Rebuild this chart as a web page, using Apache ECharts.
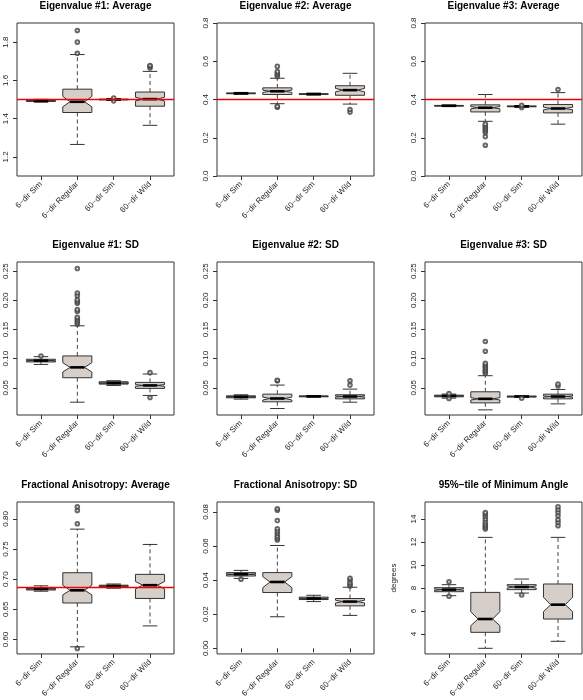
<!DOCTYPE html>
<html><head><meta charset="utf-8">
<script src="https://cdn.jsdelivr.net/npm/echarts@6/dist/echarts.min.js"></script>
<style>html,body{margin:0;padding:0;background:#fff}#c{width:583px;height:700px}</style>
</head><body><div id="c"></div>
<script>
const categories = ['6\u2212dir Sim', '6\u2212dir Regular', '60\u2212dir Sim', '60\u2212dir Wild'];
const titles = ['Eigenvalue #1: Average', 'Eigenvalue #2: Average', 'Eigenvalue #3: Average',
  'Eigenvalue #1: SD', 'Eigenvalue #2: SD', 'Eigenvalue #3: SD',
  'Fractional Anisotropy: Average', 'Fractional Anisotropy: SD', '95%\u2212tile of Minimum Angle'];

// each row: [lowWhisker, Q1, median, Q3, highWhisker, notchLow, notchHigh]
const ev1AvgBoxes = [
  [1.486, 1.490, 1.493, 1.497, 1.501, 1.4915, 1.4945],
  [1.265, 1.432, 1.488, 1.554, 1.735, 1.462, 1.516],
  [1.496, 1.498, 1.500, 1.502, 1.504, 1.4995, 1.5005],
  [1.365, 1.465, 1.502, 1.539, 1.647, 1.492, 1.512]];
const ev1AvgOutliers = [[], [1.742, 1.800, 1.861], [1.493, 1.508], [1.665, 1.674, 1.678]];

const ev2AvgBoxes = [
  [0.428, 0.430, 0.432, 0.434, 0.437, 0.4315, 0.4325],
  [0.378, 0.426, 0.443, 0.461, 0.511, 0.437, 0.449],
  [0.424, 0.426, 0.428, 0.430, 0.433, 0.4275, 0.4285],
  [0.376, 0.422, 0.449, 0.472, 0.537, 0.440, 0.458]];
const ev2AvgOutliers = [[], [0.360, 0.364, 0.520, 0.529, 0.537, 0.546, 0.573], [], [0.334, 0.348]];

const ev3AvgBoxes = [
  [0.364, 0.366, 0.367, 0.369, 0.371, 0.3665, 0.3675],
  [0.286, 0.335, 0.357, 0.372, 0.426, 0.351, 0.363],
  [0.360, 0.362, 0.364, 0.366, 0.368, 0.3635, 0.3645],
  [0.271, 0.330, 0.353, 0.374, 0.436, 0.346, 0.360]];
const ev3AvgOutliers = [[], [0.161, 0.206, 0.227, 0.236, 0.245, 0.254, 0.263, 0.271], [0.358, 0.370], [0.452]];

const ev1SdBoxes = [
  [0.0900, 0.0943, 0.0966, 0.0989, 0.1034, 0.0960, 0.0972],
  [0.0253, 0.0672, 0.0850, 0.1046, 0.1563, 0.0770, 0.0930],
  [0.0540, 0.0563, 0.0580, 0.0603, 0.0621, 0.0577, 0.0583],
  [0.0368, 0.0489, 0.0540, 0.0592, 0.0736, 0.0525, 0.0555]];
const ev1SdOutliers = [[0.1045], [0.159, 0.162, 0.165, 0.168, 0.171, 0.181, 0.184, 0.195, 0.198, 0.201, 0.208, 0.2126, 0.2546], [], [0.0333, 0.0759]];

const ev2SdBoxes = [
  [0.0305, 0.0328, 0.0345, 0.0362, 0.0380, 0.0342, 0.0348],
  [0.0144, 0.0259, 0.0316, 0.0391, 0.0546, 0.0290, 0.0340],
  [0.0340, 0.0345, 0.0353, 0.0360, 0.0365, 0.0351, 0.0355],
  [0.0253, 0.0310, 0.0350, 0.0380, 0.0477, 0.0340, 0.0360]];
const ev2SdOutliers = [[], [0.062, 0.063], [], [0.0546, 0.062]];

const ev3SdBoxes = [
  [0.0322, 0.0345, 0.0360, 0.0373, 0.0392, 0.0357, 0.0363],
  [0.0121, 0.0241, 0.0310, 0.0431, 0.0707, 0.0290, 0.0330],
  [0.0335, 0.0340, 0.0350, 0.0358, 0.0362, 0.0348, 0.0352],
  [0.0224, 0.0310, 0.0350, 0.0390, 0.0471, 0.0340, 0.0360]];
const ev3SdOutliers = [[0.0315, 0.040], [0.0747, 0.0776, 0.080, 0.0833, 0.086, 0.089, 0.092, 0.1126, 0.1293], [0.032], [0.053, 0.0563]];

const faAvgBoxes = [
  [0.680, 0.682, 0.684, 0.686, 0.689, 0.6835, 0.6845],
  [0.5878, 0.6605, 0.6815, 0.7107, 0.783, 0.674, 0.690],
  [0.685, 0.687, 0.6886, 0.690, 0.692, 0.688, 0.6892],
  [0.6225, 0.668, 0.690, 0.708, 0.7576, 0.684, 0.696]];
const faAvgOutliers = [[], [0.585, 0.792, 0.814, 0.820], [], []];

const faSdBoxes = [
  [0.0410, 0.0424, 0.0434, 0.0444, 0.0457, 0.0432, 0.0436],
  [0.0185, 0.0327, 0.0389, 0.0444, 0.0603, 0.0356, 0.0420],
  [0.0274, 0.0286, 0.0292, 0.0300, 0.0311, 0.0290, 0.0294],
  [0.0193, 0.0249, 0.0274, 0.0292, 0.0358, 0.0266, 0.0282]];
const faSdOutliers = [[0.0405], [0.0635, 0.0646, 0.0658, 0.0673, 0.0687, 0.0701, 0.0749, 0.081, 0.0818], [], [0.0366, 0.0374, 0.0385, 0.0401, 0.0411]];

const angleBoxes = [
  [7.33, 7.68, 7.86, 8.03, 8.29, 7.80, 7.92],
  [2.75, 4.14, 5.30, 7.62, 12.41, 4.72, 5.94],
  [7.56, 7.86, 8.09, 8.29, 8.78, 8.00, 8.18],
  [3.36, 5.30, 6.55, 8.35, 12.41, 5.94, 7.19]];
const angleOutliers = [[7.28, 8.55], [13.13, 13.28, 13.42, 13.57, 13.77, 14.0, 14.23, 14.43, 14.58], [7.39], [13.42, 13.71, 13.94, 14.29, 14.58, 14.81, 15.07]];

// reference (red) lines, null = none
const refLines = [1.5, 0.4, 0.4, null, null, null, 0.686, null, null];

// y axis ranges and tick labels
const yRanges = [[1.1, 1.9], [0, 0.8], [0, 0.8], [0.0033, 0.2657], [0.0033, 0.2657], [0.0033, 0.2657], [0.576, 0.828], [-0.0033, 0.0858], [2.26, 15.49]];
const avgTicks = ['1.2', '1.4', '1.6', '1.8'];
const evTicks = ['0.0', '0.2', '0.4', '0.6', '0.8'];
const sdTicks = ['0.05', '0.10', '0.15', '0.20', '0.25'];
const faAvgTicks = ['0.60', '0.65', '0.70', '0.75', '0.80'];
const faSdTicks = ['0.00', '0.02', '0.04', '0.06', '0.08'];
const angleTicks = ['4', '6', '8', '10', '12', '14'];
const yTickLabels = [avgTicks, evTicks, evTicks, sdTicks, sdTicks, sdTicks, faAvgTicks, faSdTicks, angleTicks];
const yNames = ['', '', '', '', '', '', '', '', 'degrees'];

const allBoxes = [ev1AvgBoxes, ev2AvgBoxes, ev3AvgBoxes, ev1SdBoxes, ev2SdBoxes, ev3SdBoxes, faAvgBoxes, faSdBoxes, angleBoxes];
const allOutliers = [ev1AvgOutliers, ev2AvgOutliers, ev3AvgOutliers, ev1SdOutliers, ev2SdOutliers, ev3SdOutliers, faAvgOutliers, faSdOutliers, angleOutliers];

// layout
const colLeft = [17, 217, 425];
const rowTop = [23, 262, 502];
const gridW = 157, gridH = 153;
const xMin = 0.34, xMax = 4.66;
const FONT = "'Liberation Sans', Arial, Helvetica, sans-serif";
const INK = '#333';

function renderBox(params, api) {
  const x = api.value(0);
  const lo = api.value(1), q1 = api.value(2), med = api.value(3), q3 = api.value(4), hi = api.value(5), nlo = api.value(6), nhi = api.value(7);
  const half = api.size([0.4, 0])[0];
  const cx = api.coord([x, med])[0];
  const Y = v => api.coord([x, v])[1];
  const nw = half / 2, sw = half / 2;
  const pts = [[cx - half, Y(q1)], [cx - half, Y(nlo)], [cx - nw, Y(med)], [cx - half, Y(nhi)], [cx - half, Y(q3)],
    [cx + half, Y(q3)], [cx + half, Y(nhi)], [cx + nw, Y(med)], [cx + half, Y(nlo)], [cx + half, Y(q1)]];
  const dash = { stroke: '#444', lineWidth: 1, lineDash: [4, 3] };
  const solid = { stroke: INK, lineWidth: 1 };
  return {
    type: 'group', children: [
      { type: 'line', shape: { x1: cx, y1: Y(q3), x2: cx, y2: Y(hi) }, style: dash },
      { type: 'line', shape: { x1: cx, y1: Y(q1), x2: cx, y2: Y(lo) }, style: dash },
      { type: 'line', shape: { x1: cx - sw, y1: Y(hi), x2: cx + sw, y2: Y(hi) }, style: solid },
      { type: 'line', shape: { x1: cx - sw, y1: Y(lo), x2: cx + sw, y2: Y(lo) }, style: solid },
      { type: 'polygon', shape: { points: pts }, style: { fill: '#d5cec9', stroke: INK, lineWidth: 1 } },
      { type: 'line', shape: { x1: cx - nw, y1: Y(med), x2: cx + nw, y2: Y(med) }, style: { stroke: '#000', lineWidth: 2.6 } }
    ]
  };
}

const grids = [], xAxes = [], yAxes = [], series = [], titleOpts = [];
for (let p = 0; p < 9; p++) {
  const r = Math.floor(p / 3), c = p % 3;
  grids.push({ left: colLeft[c], top: rowTop[r], width: gridW, height: gridH, show: true, borderColor: INK, borderWidth: 1, backgroundColor: 'transparent', containLabel: false });
  titleOpts.push({ text: titles[p], left: colLeft[c] + gridW / 2, top: rowTop[r] - 22, textAlign: 'center', padding: 0,
    textStyle: { fontSize: 10, fontWeight: 'bold', color: '#000', fontFamily: FONT } });
  xAxes.push({ type: 'value', gridIndex: p, min: xMin, max: xMax,
    axisLine: { show: false }, splitLine: { show: false },
    axisTick: { show: true, length: 4, customValues: [1, 2, 3, 4], lineStyle: { color: INK } },
    axisLabel: { customValues: [1, 2, 3, 4], rotate: 45, margin: 7, fontSize: 8, color: '#222', fontFamily: FONT,
      formatter: v => categories[Math.round(v) - 1] } });
  const labels = yTickLabels[p];
  const tickVals = labels.map(Number);
  yAxes.push({ type: 'value', gridIndex: p, min: yRanges[p][0], max: yRanges[p][1],
    name: yNames[p], nameLocation: 'middle', nameGap: 27, nameRotate: 90,
    nameTextStyle: { fontSize: 8, color: '#222', fontFamily: FONT },
    axisLine: { show: false }, splitLine: { show: false },
    axisTick: { show: true, length: 4, customValues: tickVals, lineStyle: { color: INK } },
    axisLabel: { customValues: tickVals, rotate: 90, margin: 7, fontSize: 8, color: '#222', fontFamily: FONT,
      formatter: v => { const i = tickVals.findIndex(t => Math.abs(t - v) < 1e-9); return i >= 0 ? labels[i] : ''; } } });
  series.push({ type: 'custom', xAxisIndex: p, yAxisIndex: p, renderItem: renderBox, z: 2,
    encode: { x: 0, y: [1, 2, 3, 4, 5, 6, 7] },
    data: allBoxes[p].map((row, i) => [i + 1].concat(row)) });
  const pts = [];
  allOutliers[p].forEach((vals, i) => vals.forEach(v => pts.push([i + 1, v])));
  series.push({ type: 'scatter', xAxisIndex: p, yAxisIndex: p, symbol: 'emptyCircle', symbolSize: 3.6, z: 3,
    itemStyle: { color: '#444', borderWidth: 0.7 }, data: pts });
  if (refLines[p] !== null) {
    series.push({ type: 'line', xAxisIndex: p, yAxisIndex: p, symbol: 'none', z: 5,
      lineStyle: { color: '#f00000', width: 1.5 }, data: [[xMin, refLines[p]], [xMax, refLines[p]]] });
  }
}

const chart = echarts.init(document.getElementById('c'), null, { renderer: 'canvas' });
chart.setOption({ animation: false, backgroundColor: '#fff', title: titleOpts, grid: grids, xAxis: xAxes, yAxis: yAxes, series: series });
</script>
</body></html>
